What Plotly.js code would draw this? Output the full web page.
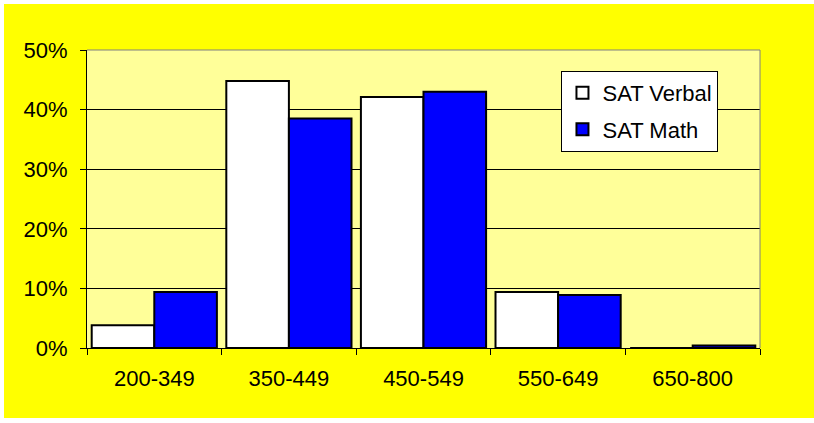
<!DOCTYPE html>
<html>
<head>
<meta charset="utf-8">
<script src="https://cdn.plot.ly/plotly-3.0.1.min.js"></script>
<style>
  html, body { margin: 0; padding: 0; background: #ffffff; }
  #chart { position: absolute; left: 4px; top: 4px; width: 810px; height: 414px; }
</style>
</head>
<body>
<div id="chart"></div>
<script>
const categories = ["200-349", "350-449", "450-549", "550-649", "650-800"];
const satVerbal = [0.038, 0.448, 0.421, 0.094, 0.0];
const satMath   = [0.094, 0.385, 0.430, 0.089, 0.004];
const yTickVals = [0, 0.1, 0.2, 0.3, 0.4, 0.5];
const yTickText = ["0%", "10%", "20%", "30%", "40%", "50%"];

const FONT = "Arial, 'Liberation Sans', sans-serif";

const traces = [
  {
    type: "bar", name: "SAT Verbal", x: categories, y: satVerbal,
    legendgroup: "v",
    marker: { color: "#ffffff", line: { color: "#000000", width: 2 } },
    hoverinfo: "skip"
  },
  {
    type: "bar", name: "SAT Math", x: categories, y: satMath,
    legendgroup: "m",
    marker: { color: "#0000ff", line: { color: "#000000", width: 2 } },
    hoverinfo: "skip"
  }
];

const layout = {
  width: 810, height: 414,
  paper_bgcolor: "#ffff00",
  plot_bgcolor: "#ffff99",
  margin: { l: 83, r: 54, t: 46, b: 70, pad: 0 },
  font: { family: FONT, size: 22, color: "#000000" },
  barmode: "group",
  bargap: 0.07,
  bargroupgap: 0,
  showlegend: true,
  legend: {
    x: 0.705, y: 0.93, xanchor: "left", yanchor: "top",
    bgcolor: "#ffffff", bordercolor: "#000000", borderwidth: 1,
    font: { family: FONT, size: 22, color: "#000000" },
    tracegroupgap: 5
  },
  xaxis: {
    type: "category",
    tickson: "boundaries",
    ticks: "outside", ticklen: 6, tickcolor: "#000000", tickwidth: 1,
    showline: true, linecolor: "#000000", linewidth: 1,
    showgrid: false, zeroline: false,
    ticklabelstandoff: 11,
    tickfont: { family: FONT, size: 22, color: "#000000" }
  },
  yaxis: {
    range: [0, 0.5],
    tickvals: yTickVals, ticktext: yTickText,
    ticks: "outside", ticklen: 6, tickcolor: "#000000", tickwidth: 1,
    showline: true, linecolor: "#000000", linewidth: 1,
    showgrid: true, gridcolor: "#000000", gridwidth: 1,
    zeroline: false,
    ticklabelstandoff: 8,
    tickfont: { family: FONT, size: 22, color: "#000000" }
  },
  shapes: [
    { type: "line", xref: "paper", yref: "paper", x0: 0, x1: 1, y0: 1, y1: 1,
      line: { color: "#808080", width: 1 } },
    { type: "line", xref: "paper", yref: "paper", x0: 1, x1: 1, y0: 0, y1: 1,
      line: { color: "#808080", width: 1 } }
  ]
};

Plotly.newPlot("chart", traces, layout, { staticPlot: true, displayModeBar: false });
</script>
</body>
</html>
